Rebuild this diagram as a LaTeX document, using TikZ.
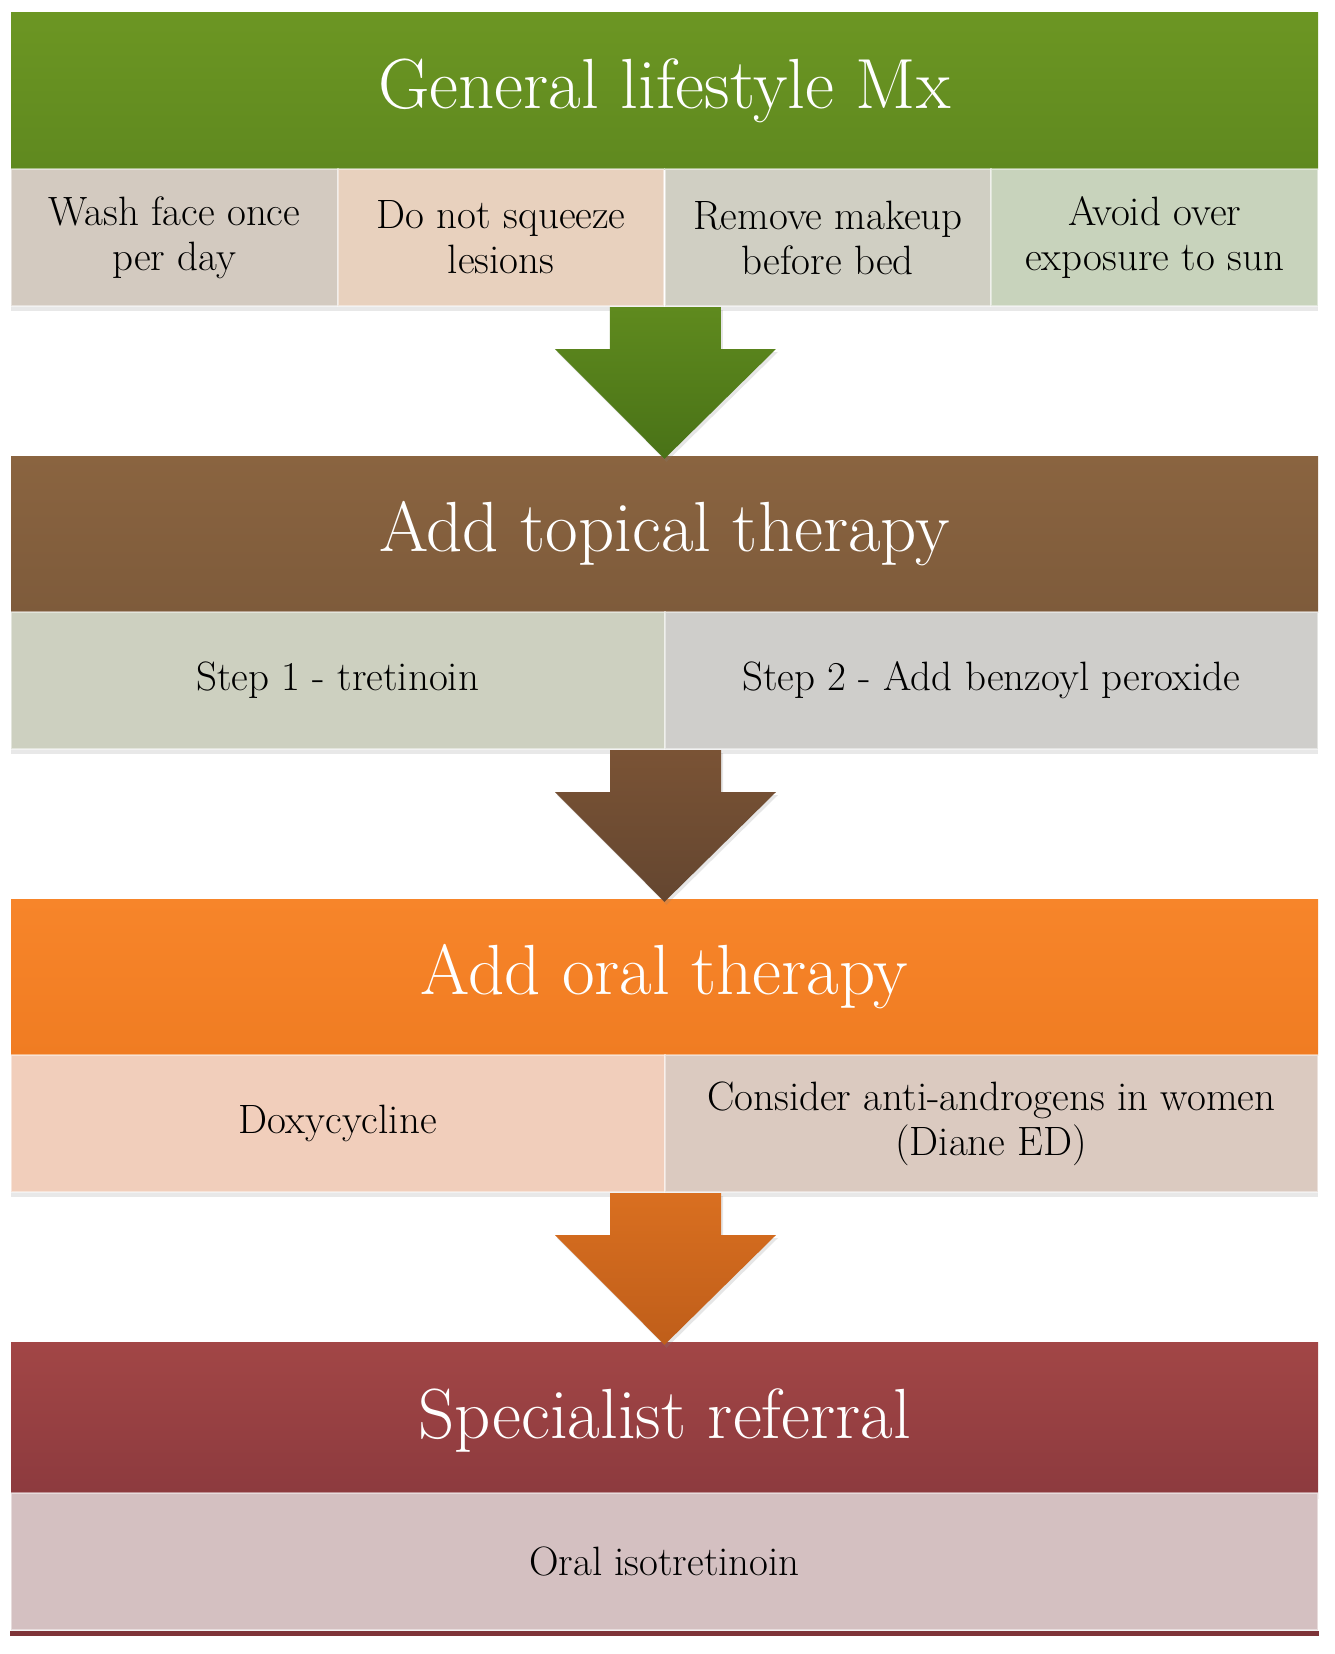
\documentclass[tikz,border=0pt]{standalone}
\usetikzlibrary{calc,shadows}

\definecolor{lifeTop}{HTML}{6C9623}
\definecolor{lifeBot}{HTML}{5F891F}
\definecolor{topTop}{HTML}{8A6440}
\definecolor{topBot}{HTML}{7E5B3B}
\definecolor{oralTop}{HTML}{F7852A}
\definecolor{oralBot}{HTML}{F07C22}
\definecolor{specTop}{HTML}{A24646}
\definecolor{specBot}{HTML}{8C3A3E}
\definecolor{lifeArrTop}{HTML}{5F8A1E}
\definecolor{lifeArrBot}{HTML}{497217}
\definecolor{topArrTop}{HTML}{7A5335}
\definecolor{topArrBot}{HTML}{644630}
\definecolor{oralArrTop}{HTML}{D96F20}
\definecolor{oralArrBot}{HTML}{BF5E1A}

\tikzset{
  hdr/.style={rectangle, minimum width=1307pt, minimum height=156pt, inner sep=0pt,
    text=white, font=\fontsize{71}{84}\selectfont},
  cell/.style={rectangle, minimum height=137pt, inner sep=0pt, align=center,
    draw=white, draw opacity=.45, line width=2pt, text=black,
    font=\fontsize{41}{45}\selectfont,
    drop shadow={shadow xshift=0pt, shadow yshift=-5pt, opacity=.18}},
  quarter/.style={cell, minimum width=326.75pt},
  half/.style={cell, minimum width=653.5pt},
  whole/.style={cell, minimum width=1307pt}
}

% block arrow from the bottom of one band to the top of the next
\newcommand{\flowarrow}[4]{%
  \path[top color=#3, bottom color=#4,
    drop shadow={shadow xshift=2pt, shadow yshift=-3pt, opacity=.2}]
    ($(#1)+(-55.5,0)$) -- ($(#1)+(55.5,0)$) -- ($(#1)+(55.5,42)$)
    -- ($(#1)+(110.5,42)$) -- ($(#2)+(0,3)$) -- ($(#1)+(-110.5,42)$)
    -- ($(#1)+(-55.5,42)$) -- cycle;}

\begin{document}
\begin{tikzpicture}[x=1pt, y=-1pt]
	\useasboundingbox (0,0) rectangle (1334,1654);

	% lifestyle
	\node[hdr, top color=lifeTop, bottom color=lifeBot] (life) at (664.5,91) {General lifestyle Mx};
	\node[quarter, fill={rgb,255:red,211;green,202;blue,192}] (lifeA) at (174.4,237.5) {Wash face once\\per day};
	\node[quarter, fill={rgb,255:red,232;green,209;blue,190}] (lifeB) at (501.1,237.5) {Do not squeeze\\lesions};
	\node[quarter, fill={rgb,255:red,208;green,207;blue,195}] (lifeC) at (827.9,237.5) {Remove makeup\\before bed};
	\node[quarter, fill={rgb,255:red,200;green,211;blue,188}] (lifeD) at (1154.6,237.5) {Avoid over\\exposure to sun};

	% topical
	\node[hdr, top color=topTop, bottom color=topBot] (topic) at (664.5,534) {Add topical therapy};
	\node[half, fill={rgb,255:red,205;green,208;blue,192}] (topicA) at (337.75,680.5) {Step 1 - tretinoin};
	\node[half, fill={rgb,255:red,207;green,206;blue,203}] (topicB) at (991.25,680.5) {Step 2 - Add benzoyl peroxide};

	% oral
	\node[hdr, top color=oralTop, bottom color=oralBot] (oral) at (664.5,977) {Add oral therapy};
	\node[half, fill={rgb,255:red,241;green,206;blue,187}] (oralA) at (337.75,1123.5) {Doxycycline};
	\node[half, fill={rgb,255:red,219;green,202;blue,192}] (oralB) at (991.25,1123.5) {Consider anti-androgens in women\\(Diane ED)};

	% referral
	\node[hdr, top color=specTop, bottom color=specBot] (spec) at (664.5,1420) {Specialist referral};
	\node[whole, fill={rgb,255:red,212;green,192;blue,193}] (specA) at (664.5,1561) {Oral isotretinoin};
	\fill[specBot!90!black] (specA.south west) rectangle ($(specA.south east)+(0,5)$);

	\flowarrow{lifeB.south east}{topic.north}{lifeArrTop}{lifeArrBot}
	\flowarrow{topicA.south east}{oral.north}{topArrTop}{topArrBot}
	\flowarrow{oralA.south east}{spec.north}{oralArrTop}{oralArrBot}
\end{tikzpicture}
\end{document}
